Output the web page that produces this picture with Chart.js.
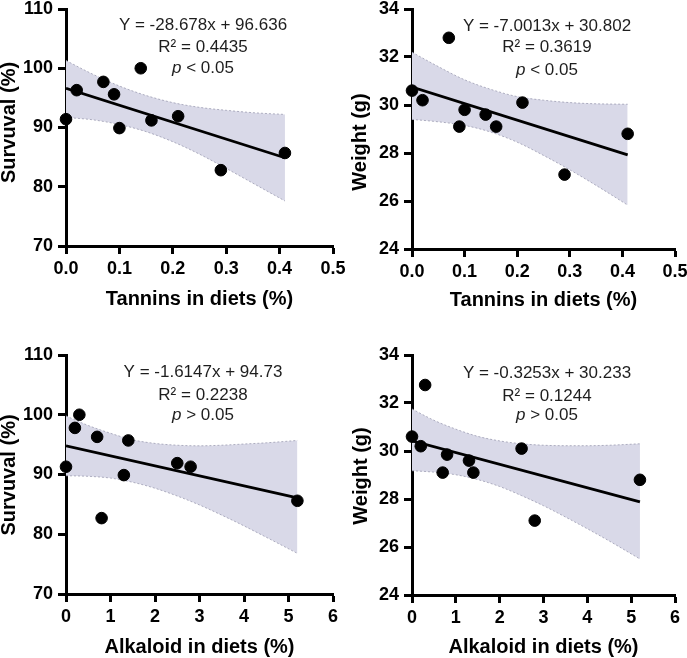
<!DOCTYPE html>
<html>
<head>
<meta charset="utf-8">
<script src="https://cdn.jsdelivr.net/npm/chart.js@4.4.0/dist/chart.umd.min.js"></script>
<style>
    html, body { margin: 0; padding: 0; background: #fff; }
    body { width: 687px; height: 658px; overflow: hidden; position: relative; }
    canvas { position: absolute; }
</style>
</head>
<body>
<canvas id="p1"></canvas>
<canvas id="p2"></canvas>
<canvas id="p3"></canvas>
<canvas id="p4"></canvas>
<script>
// Datos
const taninosX = [0, 0.02, 0.07, 0.09, 0.10, 0.14, 0.16, 0.21, 0.29, 0.41];
const supervTaninos = [91.4, 96.3, 97.7, 95.6, 89.9, 100, 91.2, 91.9, 82.8, 85.7];
const pesoTaninos = [30.6, 30.2, 32.8, 29.1, 29.8, 29.6, 29.1, 30.1, 27.1, 28.8];

const alcaloideX = [0, 0.2, 0.3, 0.7, 0.8, 1.3, 1.4, 2.5, 2.8, 5.2];
const supervAlcaloide = [91.3, 97.8, 100, 96.3, 82.7, 89.9, 95.7, 91.9, 91.3, 85.6];
const pesoAlcaloide = [30.6, 30.2, 32.75, 29.1, 29.85, 29.6, 29.1, 30.1, 27.1, 28.8];

// Rectas de regresión (extremos)
const lineaTaninosX = [0, 0.41];
const lineaSupervTaninos = [96.6, 84.9];
const lineaPesoTaninos = [30.75, 27.92];
const lineaAlcaloideX = [0, 5.2];
const lineaSupervAlcaloide = [94.8, 86.1];
const lineaPesoAlcaloide = [30.42, 27.88];

// Bandas de confianza 95%
const bandaTaninosX = [0, 0.05, 0.1, 0.15, 0.2, 0.25, 0.3, 0.35, 0.41];
const bandaSupervTaninosSup = [101.3, 99.0, 97.0, 95.4, 94.2, 93.4, 92.9, 92.5, 92.2];
const bandaSupervTaninosInf = [91.7, 91.3, 90.5, 89.3, 87.6, 85.5, 83.1, 80.6, 77.6];
const bandaPesoTaninosSup = [32.2, 31.6, 31.05, 30.65, 30.35, 30.2, 30.1, 30.05, 30.03];
const bandaPesoTaninosInf = [29.4, 29.3, 29.15, 28.87, 28.45, 27.9, 27.3, 26.65, 25.83];

const bandaAlcaloideX = [0, 0.5, 1, 1.5, 2, 2.5, 3, 3.5, 4, 4.5, 5.2];
const bandaSupervAlcaloideSup = [99.8, 98.2, 96.9, 95.8, 95.2, 94.9, 94.8, 94.9, 95.1, 95.3, 95.7];
const bandaSupervAlcaloideInf = [89.8, 89.7, 89.4, 88.7, 87.7, 86.4, 84.9, 83.2, 81.4, 79.5, 76.8];
const bandaPesoAlcaloideSup = [31.75, 31.28, 30.91, 30.61, 30.42, 30.3, 30.24, 30.22, 30.22, 30.24, 30.3];
const bandaPesoAlcaloideInf = [29.18, 29.12, 29.01, 28.81, 28.52, 28.14, 27.72, 27.25, 26.76, 26.25, 25.5];

// Textos
const tituloTaninos = 'Tannins in diets (%)';
const tituloAlcaloide = 'Alkaloid in diets (%)';
const tituloSuperv = 'Survuval (%)';
const tituloPeso = 'Weight (g)';
const textos = {
    p1: ['Y = -28.678x + 96.636', 'R² = 0.4435', '<'],
    p2: ['Y = -7.0013x + 30.802', 'R² = 0.3619', '<'],
    p3: ['Y = -1.6147x + 94.73', 'R² = 0.2238', '>'],
    p4: ['Y = -0.3253x + 30.233', 'R² = 0.1244', '>']
};

const FUENTE = "'Liberation Sans', Arial, sans-serif";

function puntos(xs, ys) {
    return xs.map((x, i) => ({ x: x, y: ys[i] }));
}

// Plugin para las ecuaciones y el título del eje Y
const textoPanel = {
    id: 'textoPanel',
    afterDraw(chart, args, opts) {
        const ctx = chart.ctx;
        ctx.save();
        ctx.fillStyle = '#1e1e1e';
        ctx.textAlign = 'center';
        ctx.textBaseline = 'middle';
        ctx.font = '17px ' + FUENTE;
        ctx.fillText(opts.lineas[0], opts.cx, opts.ys[0]);
        ctx.fillText(opts.lineas[1], opts.cx, opts.ys[1]);
        // p en cursiva
        const resto = ' ' + opts.lineas[2] + ' 0.05';
        ctx.font = 'italic 17px ' + FUENTE;
        const wp = ctx.measureText('p').width;
        ctx.font = '17px ' + FUENTE;
        const wr = ctx.measureText(resto).width;
        const x0 = opts.cx - (wp + wr) / 2;
        ctx.textAlign = 'left';
        ctx.font = 'italic 17px ' + FUENTE;
        ctx.fillText('p', x0, opts.ys[2]);
        ctx.font = '17px ' + FUENTE;
        ctx.fillText(resto, x0 + wp, opts.ys[2]);

        // título eje Y
        ctx.fillStyle = '#000';
        ctx.font = 'bold 20px ' + FUENTE;
        ctx.textAlign = 'center';
        ctx.translate(opts.yt[0], opts.yt[1]);
        ctx.rotate(-Math.PI / 2);
        ctx.fillText(opts.tituloY, 0, 0);
        ctx.restore();
    }
};

function crearPanel(id, g, d) {
    const canvas = document.getElementById(id);
    canvas.width = g.cw;
    canvas.height = g.ch;
    canvas.style.left = g.cl + 'px';
    canvas.style.top = g.ct + 'px';

    const anchoY = g.area.l - g.cl;
    const altoX = g.ct + g.ch - g.area.b;
    const ejeBase = {
        type: 'linear',
        grid: { display: true, drawOnChartArea: false, drawTicks: true, tickLength: 8, tickWidth: 3, tickColor: '#000' },
        border: { display: true, color: '#000', width: 3 }
    };

    new Chart(canvas, {
        type: 'scatter',
        data: {
            datasets: [
                {
                    data: puntos(d.x, d.y),
                    backgroundColor: '#000',
                    borderColor: '#000',
                    pointRadius: 5.8,
                    clip: false,
                    order: 0
                },
                {
                    type: 'line',
                    data: puntos(d.lx, d.ly),
                    borderColor: '#000',
                    borderWidth: 2.8,
                    pointRadius: 0,
                    fill: false,
                    order: 1
                },
                {
                    type: 'line',
                    data: puntos(d.bx, d.bsup),
                    borderColor: 'rgba(165,165,185,0.9)',
                    borderWidth: 1,
                    borderDash: [2, 2],
                    backgroundColor: 'rgb(217,217,232)',
                    pointRadius: 0,
                    cubicInterpolationMode: 'monotone',
                    fill: '+1',
                    order: 3
                },
                {
                    type: 'line',
                    data: puntos(d.bx, d.binf),
                    borderColor: 'rgba(165,165,185,0.9)',
                    borderWidth: 1,
                    borderDash: [2, 2],
                    pointRadius: 0,
                    cubicInterpolationMode: 'monotone',
                    fill: false,
                    order: 2
                }
            ]
        },
        options: {
            responsive: false,
            animation: false,
            layout: { padding: { top: g.area.t - g.ct, right: g.cl + g.cw - g.area.r, left: 0, bottom: 0 } },
            scales: {
                x: Object.assign({}, ejeBase, {
                    position: 'bottom',
                    min: d.xmin, max: d.xmax,
                    ticks: {
                        stepSize: d.xstep,
                        color: '#000',
                        padding: 4,
                        font: { family: FUENTE, size: 18, weight: 'bold' },
                        callback: v => d.xdec ? v.toFixed(1) : v.toFixed(0)
                    },
                    title: {
                        display: true, text: d.tituloX, color: '#000',
                        font: { family: FUENTE, size: 20, weight: 'bold' },
                        padding: { top: 0, bottom: altoX - (g.tx - g.area.b) - 12 }
                    },
                    afterFit: s => { s.height = altoX; }
                }),
                y: Object.assign({}, ejeBase, {
                    position: 'left',
                    min: d.ymin, max: d.ymax,
                    ticks: {
                        stepSize: d.ystep,
                        color: '#000',
                        padding: 5,
                        font: { family: FUENTE, size: 18, weight: 'bold' }
                    },
                    afterFit: s => { s.width = anchoY; }
                })
            },
            plugins: {
                legend: { display: false },
                tooltip: { enabled: false },
                textoPanel: {
                    lineas: d.textos,
                    cx: g.ecx - g.cl,
                    ys: g.ecy.map(v => v - g.ct),
                    tituloY: d.tituloY,
                    yt: [g.yt[0] - g.cl, g.yt[1] - g.ct]
                }
            }
        },
        plugins: [textoPanel]
    });
}

document.addEventListener('DOMContentLoaded', () => {
    crearPanel('p1',
        { cl: -2, ct: -10, cw: 352, ch: 335, area: { l: 66, t: 9, r: 333, b: 246 }, tx: 299,
          ecx: 203, ecy: [25, 47.5, 68.5], yt: [9, 122.5] },
        { x: taninosX, y: supervTaninos, lx: lineaTaninosX, ly: lineaSupervTaninos,
          bx: bandaTaninosX, bsup: bandaSupervTaninosSup, binf: bandaSupervTaninosInf,
          xmin: 0, xmax: 0.5, xstep: 0.1, xdec: true, ymin: 70, ymax: 110, ystep: 10,
          tituloX: tituloTaninos, tituloY: tituloSuperv, textos: textos.p1 });

    crearPanel('p2',
        { cl: 344, ct: -10, cw: 350, ch: 335, area: { l: 412, t: 9, r: 675, b: 249 }, tx: 300,
          ecx: 547, ecy: [26.5, 47.5, 70], yt: [360, 142] },
        { x: taninosX, y: pesoTaninos, lx: lineaTaninosX, ly: lineaPesoTaninos,
          bx: bandaTaninosX, bsup: bandaPesoTaninosSup, binf: bandaPesoTaninosInf,
          xmin: 0, xmax: 0.5, xstep: 0.1, xdec: true, ymin: 24, ymax: 34, ystep: 2,
          tituloX: tituloTaninos, tituloY: tituloPeso, textos: textos.p2 });

    crearPanel('p3',
        { cl: -2, ct: 330, cw: 352, ch: 340, area: { l: 66, t: 355, r: 333, b: 594 }, tx: 647,
          ecx: 203, ecy: [372, 395, 415], yt: [9, 475] },
        { x: alcaloideX, y: supervAlcaloide, lx: lineaAlcaloideX, ly: lineaSupervAlcaloide,
          bx: bandaAlcaloideX, bsup: bandaSupervAlcaloideSup, binf: bandaSupervAlcaloideInf,
          xmin: 0, xmax: 6, xstep: 1, xdec: false, ymin: 70, ymax: 110, ystep: 10,
          tituloX: tituloAlcaloide, tituloY: tituloSuperv, textos: textos.p3 });

    crearPanel('p4',
        { cl: 344, ct: 330, cw: 350, ch: 340, area: { l: 412, t: 355, r: 675, b: 595 }, tx: 647,
          ecx: 547, ecy: [373, 396, 415], yt: [361, 476] },
        { x: alcaloideX, y: pesoAlcaloide, lx: lineaAlcaloideX, ly: lineaPesoAlcaloide,
          bx: bandaAlcaloideX, bsup: bandaPesoAlcaloideSup, binf: bandaPesoAlcaloideInf,
          xmin: 0, xmax: 6, xstep: 1, xdec: false, ymin: 24, ymax: 34, ystep: 2,
          tituloX: tituloAlcaloide, tituloY: tituloPeso, textos: textos.p4 });
});
</script>
</body>
</html>
